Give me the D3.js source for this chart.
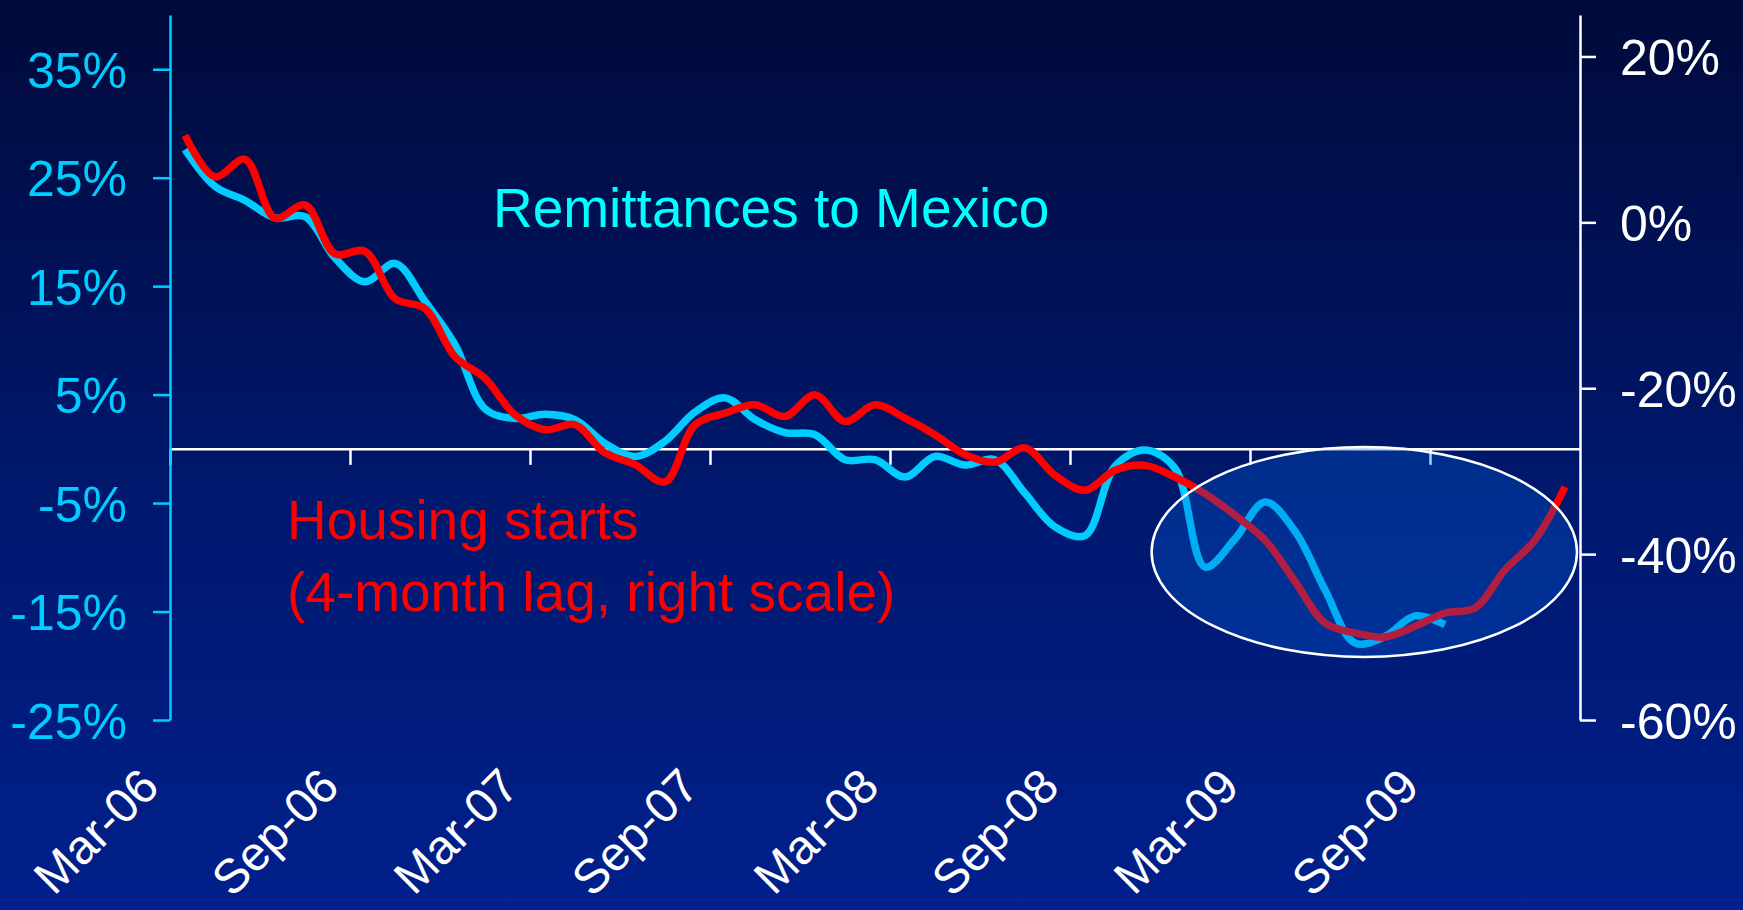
<!DOCTYPE html>
<html>
<head>
<meta charset="utf-8">
<script src="https://cdn.jsdelivr.net/npm/d3@7"></script>
<style>
  html, body { margin: 0; padding: 0; background: #000c3c; }
  svg { display: block; }
  text { font-family: Arial, "Liberation Sans", Helvetica, sans-serif; }
</style>
</head>
<body>
<svg id="chart" width="1743" height="910"></svg>
<script>
// Monthly categories, Mar-06 .. Jan-10
const months = [
  "Mar-06","Apr-06","May-06","Jun-06","Jul-06","Aug-06","Sep-06","Oct-06","Nov-06","Dec-06",
  "Jan-07","Feb-07","Mar-07","Apr-07","May-07","Jun-07","Jul-07","Aug-07","Sep-07","Oct-07",
  "Nov-07","Dec-07","Jan-08","Feb-08","Mar-08","Apr-08","May-08","Jun-08","Jul-08","Aug-08",
  "Sep-08","Oct-08","Nov-08","Dec-08","Jan-09","Feb-09","Mar-09","Apr-09","May-09","Jun-09",
  "Jul-09","Aug-09","Sep-09","Oct-09","Nov-09","Dec-09","Jan-10"
];
const tickMonths = ["Mar-06","Sep-06","Mar-07","Sep-07","Mar-08","Sep-08","Mar-09","Sep-09"];

// Remittances to Mexico, y/y % change (left scale)
const remittances = [
  27.6, 24.2, 22.9, 21.3, 21.4, 17.6, 15.4, 17.1, 13.6, 9.6,
  3.7, 2.8, 3.2, 2.7, 0.5, -0.7, 0.7, 3.4, 4.7, 2.7,
  1.5, 1.3, -1.0, -1.0, -2.6, -0.7, -1.5, -1.0, -4.1, -7.2,
  -8.0, -1.6, -0.1, -1.8, -10.9, -8.3, -4.9, -7.6, -13.0, -17.9,
  -17.3, -15.4, -16.2
];

// US housing starts, y/y % change, 4-month lag (right scale)
const housingStarts = [
  10.5, 5.5, 7.6, 0.5, 2.1, -3.8, -3.5, -9.2, -10.4, -16.2,
  -18.8, -23.2, -25.0, -24.4, -27.8, -29.2, -31.3, -24.4, -23.0, -22.0,
  -23.4, -20.8, -24.0, -22.0, -23.6, -25.6, -28.0, -28.9, -27.2, -30.5,
  -32.3, -29.9, -29.3, -30.7, -32.7, -35.3, -38.3, -43.3, -48.3, -49.5,
  -50.0, -48.7, -47.1, -46.5, -41.9, -38.3, -31.9
];

const leftTicks = [35, 25, 15, 5, -5, -15, -25];
const rightTicks = [20, 0, -20, -40, -60];

const W = 1743, H = 910;
const plot = { left: 170, right: 1580, top: 15, bottom: 720 };

const svg = d3.select("#chart");

// Background gradient
const defs = svg.append("defs");
const grad = defs.append("linearGradient")
  .attr("id", "bg").attr("x1", 0).attr("y1", 0).attr("x2", 0).attr("y2", 1);
grad.append("stop").attr("offset", "0%").attr("stop-color", "#000a3a");
grad.append("stop").attr("offset", "55%").attr("stop-color", "#00186e");
grad.append("stop").attr("offset", "100%").attr("stop-color", "#00208c");
svg.append("rect").attr("width", W).attr("height", H).attr("fill", "url(#bg)");

// Scales
const x = d3.scaleLinear().domain([0, months.length]).range([plot.left, plot.right]);
const yL = d3.scaleLinear().domain([-25, 40]).range([plot.bottom, plot.top]);
const yR = d3.scaleLinear().domain([-60, 25]).range([plot.bottom, plot.top]);
const tickIdx = tickMonths.map(m => months.indexOf(m));

const cyan = "#00ccff";
const red = "#ff0000";

// Zero line with month ticks
const zeroAxis = svg.append("g")
  .attr("transform", `translate(0,${yL(0)})`)
  .call(d3.axisBottom(x).tickValues(tickIdx).tickSize(16).tickSizeOuter(0).tickFormat(""));
zeroAxis.select(".domain").attr("stroke", "#ffffff").attr("stroke-width", 2.5);
zeroAxis.selectAll(".tick line").attr("stroke", "#ffffff").attr("stroke-width", 2.5);

// Month labels along the bottom
const labelAxis = svg.append("g")
  .attr("transform", `translate(0,${plot.bottom})`)
  .call(d3.axisBottom(x).tickValues(tickIdx).tickSize(0).tickFormat(i => months[i]));
labelAxis.select(".domain").remove();
labelAxis.selectAll(".tick text")
  .attr("x", 0).attr("y", 0).attr("dy", 0)
  .attr("text-anchor", "end")
  .attr("transform", "translate(-9,69) rotate(-45)")
  .attr("fill", "#ffffff")
  .style("font-size", "48px");

// Left axis
const leftAxis = svg.append("g")
  .attr("transform", `translate(${plot.left},0)`)
  .call(d3.axisLeft(yL).tickValues(leftTicks).tickSize(17).tickSizeOuter(0).tickPadding(26)
    .tickFormat(d => d + "%"));
leftAxis.select(".domain").attr("stroke", cyan).attr("stroke-width", 2.5);
leftAxis.selectAll(".tick line").attr("stroke", cyan).attr("stroke-width", 2.5);
leftAxis.selectAll(".tick text").attr("fill", cyan).style("font-size", "50px").attr("dy", "0.36em");

// Right axis
const rightAxis = svg.append("g")
  .attr("transform", `translate(${plot.right},0)`)
  .call(d3.axisRight(yR).tickValues(rightTicks).tickSize(16).tickSizeOuter(0).tickPadding(24)
    .tickFormat(d => d + "%"));
rightAxis.select(".domain").attr("stroke", "#ffffff").attr("stroke-width", 2.5);
rightAxis.selectAll(".tick line").attr("stroke", "#ffffff").attr("stroke-width", 2.5);
rightAxis.selectAll(".tick text").attr("fill", "#ffffff").style("font-size", "50px").attr("dy", "0.36em");

// Series lines
const lineL = d3.line().x((d, i) => x(i + 0.5)).y(d => yL(d)).curve(d3.curveCatmullRom.alpha(0.5));
const lineR = d3.line().x((d, i) => x(i + 0.5)).y(d => yR(d)).curve(d3.curveCatmullRom.alpha(0.5));

svg.append("path").datum(remittances)
  .attr("d", lineL).attr("fill", "none").attr("stroke", cyan)
  .attr("stroke-width", 7.5).attr("stroke-linejoin", "round");
svg.append("path").datum(housingStarts)
  .attr("d", lineR).attr("fill", "none").attr("stroke", red)
  .attr("stroke-width", 7.5).attr("stroke-linejoin", "round");

// Highlight of the 2009 trough
const hx0 = x(32.72), hx1 = x(46.9);
const hy0 = yR(-27.1), hy1 = yR(-52.4);
svg.append("ellipse")
  .attr("cx", (hx0 + hx1) / 2).attr("cy", (hy0 + hy1) / 2)
  .attr("rx", (hx1 - hx0) / 2).attr("ry", (hy1 - hy0) / 2)
  .attr("fill", "rgb(0,100,217)").attr("fill-opacity", 0.3)
  .attr("stroke", "#ffffff").attr("stroke-width", 2.5);

// Series labels
svg.append("text")
  .attr("x", 493).attr("y", 227)
  .attr("fill", "#00ffff").style("font-size", "55px")
  .text("Remittances to Mexico");
const hs = svg.append("text").attr("fill", red).style("font-size", "55px");
hs.append("tspan").attr("x", 287).attr("y", 539).text("Housing starts");
hs.append("tspan").attr("x", 287).attr("y", 611).text("(4-month lag, right scale)");
</script>
</body>
</html>
